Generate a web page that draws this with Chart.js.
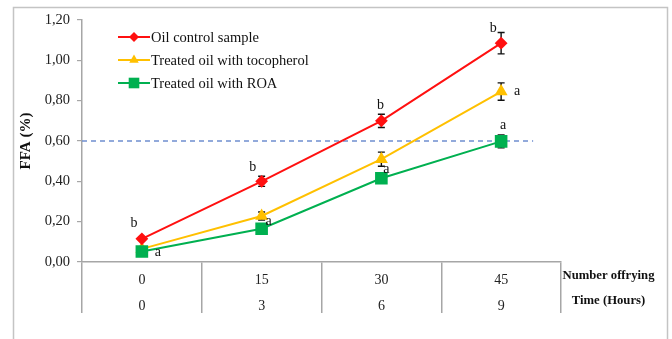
<!DOCTYPE html>
<html>
<head>
<meta charset="utf-8">
<script src="https://cdn.jsdelivr.net/npm/chart.js@4/dist/chart.umd.min.js"></script>
<style>
  html, body { margin: 0; padding: 0; background: #fff; }
  #wrap { position: relative; width: 672px; height: 339px; }
  canvas { display: block; }
</style>
</head>
<body>
<div id="wrap"><canvas id="c" width="672" height="339"></canvas></div>
<script>
// Free fatty acids during repeated frying
const fryingNumbers = ['0', '15', '30', '45'];
const fryingHours = ['0', '3', '6', '9'];
const yTickLabels = ['0,00', '0,20', '0,40', '0,60', '0,80', '1,00', '1,20'];

const controlFFA = [0.115, 0.40, 0.70, 1.085];
const controlSD = [0.008, 0.025, 0.033, 0.053];
const tocopherolFFA = [0.065, 0.228, 0.51, 0.845];
const tocopherolSD = [0.006, 0.02, 0.035, 0.043];
const roaFFA = [0.052, 0.165, 0.415, 0.598];
const roaSD = [0.005, 0.008, 0.012, 0.032];

const controlLetters = ['b', 'b', 'b', 'b'];
const tocopherolLetters = ['', 'a', '', 'a'];
const roaLetters = ['a', '', 'a', 'a'];

const limitFFA = 0.60;

const SERIF = '"Liberation Serif", "Times New Roman", serif';
const AXIS_GREY = '#a6a6a6';

// where each significance letter sits relative to its point (px)
const letterOffsets = {
  control: [[-8, -15], [-9, -14], [-1, -16], [-8, -15]],
  tocopherol: [[0, 0], [7, 5], [0, 0], [16, 0]],
  roa: [[16, 1], [0, 0], [5, -9], [2, -16]]
};

function drawMarker(ctx, style, x, y, r, color) {
  ctx.save();
  ctx.fillStyle = color;
  ctx.beginPath();
  if (style === 'rectRot') {
    ctx.moveTo(x - r, y); ctx.lineTo(x, y + r); ctx.lineTo(x + r, y); ctx.lineTo(x, y - r);
  } else if (style === 'triangle') {
    const w = r * 1.732;
    ctx.moveTo(x - w / 2, y + r / 2); ctx.lineTo(x + w / 2, y + r / 2); ctx.lineTo(x, y - r);
  } else {
    const s = r * Math.SQRT1_2;
    ctx.rect(x - s, y - s, 2 * s, 2 * s);
  }
  ctx.closePath();
  ctx.fill();
  ctx.restore();
}

const decorations = {
  id: 'decorations',
  beforeDraw(chart) {
    const ctx = chart.ctx;
    ctx.save();
    ctx.strokeStyle = '#c4c4c4';
    ctx.lineWidth = 1.5;
    ctx.strokeRect(13.5, 7.5, 654, 400);
    ctx.restore();
  },
  beforeDatasetsDraw(chart) {
    const { ctx, chartArea, scales: { x, y } } = chart;
    const yy = y.getPixelForValue(limitFFA);
    const xEnd = x.getPixelForValue(3) + 32;
    ctx.save();
    ctx.strokeStyle = '#6f8fcf';
    ctx.lineWidth = 1.3;
    ctx.setLineDash([5, 4]);
    ctx.beginPath();
    ctx.moveTo(chartArea.left, yy);
    ctx.lineTo(xEnd, yy);
    ctx.stroke();
    ctx.restore();

    // error bars sit beneath the markers
    const sds = [controlSD, tocopherolSD, roaSD];
    ctx.save();
    ctx.strokeStyle = '#111';
    ctx.lineWidth = 1.4;
    chart.data.datasets.forEach((ds, di) => {
      ds.data.forEach((v, i) => {
        const px = x.getPixelForValue(i);
        const top = y.getPixelForValue(v + sds[di][i]);
        const bot = y.getPixelForValue(v - sds[di][i]);
        ctx.beginPath();
        ctx.moveTo(px, top); ctx.lineTo(px, bot);
        ctx.moveTo(px - 3.5, top); ctx.lineTo(px + 3.5, top);
        ctx.moveTo(px - 3.5, bot); ctx.lineTo(px + 3.5, bot);
        ctx.stroke();
      });
    });
    ctx.restore();
  },
  afterDatasetsDraw(chart) {
    const { ctx, scales: { x, y } } = chart;
    const letters = [controlLetters, tocopherolLetters, roaLetters];
    const offs = [letterOffsets.control, letterOffsets.tocopherol, letterOffsets.roa];

    // significance letters
    ctx.save();
    ctx.fillStyle = '#111';
    ctx.font = '14px ' + SERIF;
    ctx.textAlign = 'center';
    ctx.textBaseline = 'middle';
    chart.data.datasets.forEach((ds, di) => {
      ds.data.forEach((v, i) => {
        const t = letters[di][i];
        if (!t) return;
        ctx.fillText(t, x.getPixelForValue(i) + offs[di][i][0], y.getPixelForValue(v) + offs[di][i][1]);
      });
    });
    ctx.restore();

    // legend (line with marker, Excel style)
    ctx.save();
    ctx.font = '14.5px ' + SERIF;
    ctx.textBaseline = 'middle';
    chart.data.datasets.forEach((ds, di) => {
      const ly = 37 + di * 23;
      ctx.strokeStyle = ds.borderColor;
      ctx.lineWidth = 2;
      ctx.beginPath();
      ctx.moveTo(118, ly); ctx.lineTo(150, ly);
      ctx.stroke();
      drawMarker(ctx, ds.pointStyle, 134, ly, ds.pointRadius, ds.borderColor);
      ctx.fillStyle = '#111';
      ctx.fillText(ds.label, 151, ly + 1);
    });
    ctx.restore();

    // two-row category table under the x axis
    ctx.save();
    ctx.fillStyle = '#222';
    ctx.font = '14px ' + SERIF;
    ctx.textAlign = 'center';
    ctx.textBaseline = 'middle';
    const base = x.bottom - x.height; // axis line
    fryingNumbers.forEach((lab, i) => {
      const px = x.getPixelForValue(i);
      ctx.fillText(lab, px, base + 18);
      ctx.fillText(fryingHours[i], px, base + 44);
    });
    ctx.fillStyle = '#111';
    ctx.font = 'bold 12.7px ' + SERIF;
    const rx = (x.right + 656) / 2;
    ctx.fillText('Number offrying', rx, base + 14);
    ctx.fillText('Time (Hours)', rx, base + 39);
    ctx.restore();
  }
};

new Chart(document.getElementById('c'), {
  type: 'line',
  data: {
    labels: fryingNumbers,
    datasets: [
      {
        label: 'Oil control sample',
        data: controlFFA,
        borderColor: '#ff1010',
        backgroundColor: '#ff1010',
        pointStyle: 'rectRot',
        pointRadius: 5,
        borderWidth: 2,
        order: 0
      },
      {
        label: 'Treated oil with tocopherol',
        data: tocopherolFFA,
        borderColor: '#ffc000',
        backgroundColor: '#ffc000',
        pointStyle: 'triangle',
        pointRadius: 5.5,
        borderWidth: 2,
        order: 2
      },
      {
        label: 'Treated oil with ROA',
        data: roaFFA,
        borderColor: '#00b050',
        backgroundColor: '#00b050',
        pointStyle: 'rect',
        pointRadius: 7.5,
        borderWidth: 2,
        order: 1
      }
    ]
  },
  options: {
    responsive: false,
    animation: false,
    devicePixelRatio: 1,
    layout: { padding: { left: 0, right: 111, top: 20, bottom: 26 } },
    plugins: {
      legend: { display: false },
      tooltip: { enabled: false }
    },
    elements: {
      line: { tension: 0 },
      point: { borderWidth: 0, hoverRadius: 6 }
    },
    scales: {
      x: {
        type: 'category',
        offset: true,
        border: { display: true, color: AXIS_GREY, width: 1.5 },
        grid: {
          display: true,
          offset: true,
          drawOnChartArea: false,
          drawTicks: true,
          tickLength: 51,
          color: AXIS_GREY,
          lineWidth: 1.5
        },
        ticks: { display: false }
      },
      y: {
        min: 0,
        max: 1.2,
        afterFit(scale) { scale.width = 82; },
        border: { display: true, color: AXIS_GREY, width: 1.5 },
        grid: {
          drawOnChartArea: false,
          drawTicks: true,
          tickLength: 5,
          color: AXIS_GREY,
          lineWidth: 1.2
        },
        ticks: {
          stepSize: 0.2,
          padding: 7,
          color: '#222',
          font: { family: SERIF, size: 14.5 },
          callback: (v, i) => yTickLabels[i]
        },
        title: {
          display: true,
          text: 'FFA (%)',
          color: '#111',
          font: { family: SERIF, size: 15, weight: 'bold' },
          padding: { top: 17, bottom: 0 }
        }
      }
    }
  },
  plugins: [decorations]
});
</script>
</body>
</html>
